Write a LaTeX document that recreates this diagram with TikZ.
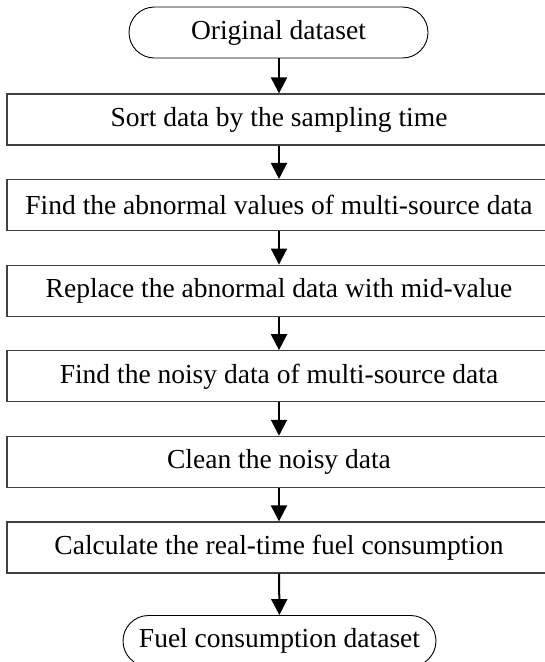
\documentclass[tikz,border=0pt]{standalone}
\usepackage{fontspec}
\setmainfont{Liberation Serif}
\usetikzlibrary{shapes.misc,arrows.meta}

\tikzset{
  stepbox/.style={draw=black!75, line width=1.3pt, minimum width=544pt, minimum height=51pt, inner sep=0pt},
  termbox/.style={draw, rounded rectangle, line width=0.9pt, minimum height=51pt, inner sep=0pt},
  flow/.style={line width=2pt, -{Triangle[width=16pt,length=16pt]}}
}

\begin{document}
\begin{tikzpicture}[x=1pt,y=1pt,font=\fontsize{27.5}{31}\selectfont]
\useasboundingbox (0,0) rectangle (545,-662);
\clip (0,0) rectangle (545,-662);

\node[termbox, minimum width=299pt] (orig) at (278.5,-32.5) {Original dataset};
\node[stepbox] (sort) at (279,-119.5) {Sort data by the sampling time};
\node[stepbox] (abnormal) at (279,-205.1) {Find the abnormal values of multi-source data};
\node[stepbox] (replace) at (279,-290.7) {Replace the abnormal data with mid-value};
\node[stepbox] (noisy) at (279,-376.3) {Find the noisy data of multi-source data};
\node[stepbox] (clean) at (279,-461.9) {Clean the noisy data};
\node[stepbox] (fuel) at (279,-547.5) {Calculate the real-time fuel consumption};
\node[termbox, minimum width=313pt] (result) at (279.5,-641) {Fuel consumption dataset};

\draw[flow] (orig.south -| sort.north) -- (sort.north);
\draw[flow] (sort) -- (abnormal);
\draw[flow] (abnormal) -- (replace);
\draw[flow] (replace) -- (noisy);
\draw[flow] (noisy) -- (clean);
\draw[flow] (clean) -- (fuel);
\draw[flow] (fuel) -- (result);

\end{tikzpicture}
\end{document}
